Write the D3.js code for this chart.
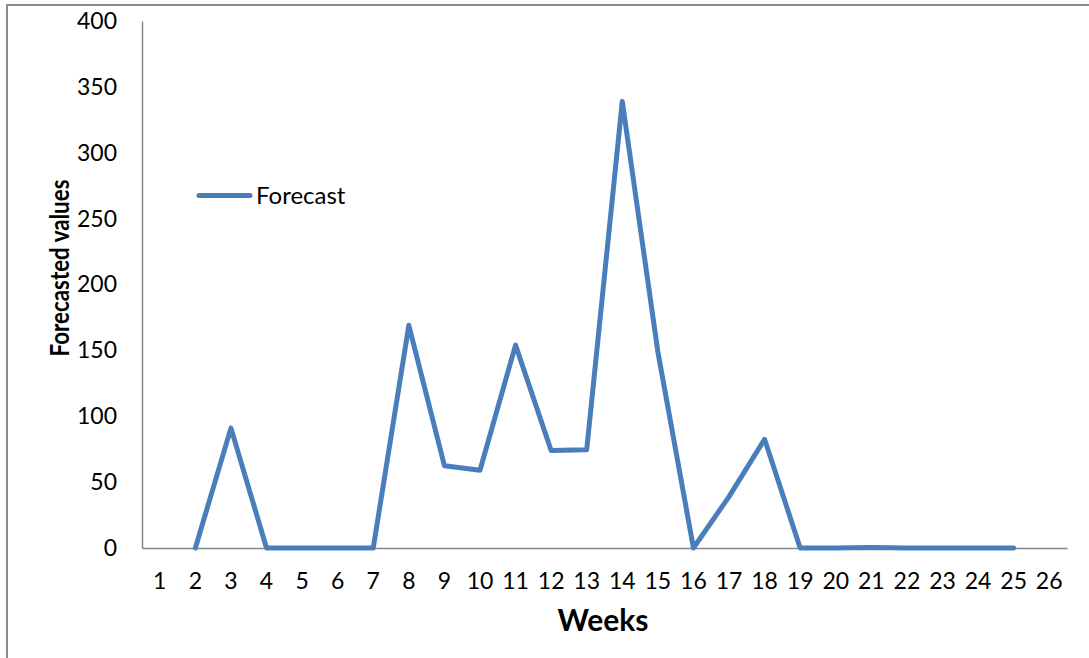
<!DOCTYPE html>
<html>
<head>
<meta charset="utf-8">
<script src="https://cdn.jsdelivr.net/npm/d3@7"></script>
<style>
  html, body { margin: 0; padding: 0; background: #fff; }
  svg { display: block; }
  text { font-family: Lato, "Open Sans", sans-serif; fill: #000; }
</style>
</head>
<body>
<svg id="chart" width="1089" height="658"></svg>
<script>
// Weekly forecast series
const weeks = ["1","2","3","4","5","6","7","8","9","10","11","12","13","14","15","16","17","18","19","20","21","22","23","24","25","26"];
const forecast = [null, 0, 91, 0, 0, 0, 0, 169, 62.5, 59, 154, 74, 74.5, 339, 149, 0, 39, 82.5, 0, 0, 0.4, 0, 0, 0, 0, null];
const yTicks = [0, 50, 100, 150, 200, 250, 300, 350, 400];
const seriesName = "Forecast";
const xTitle = "Weeks";
const yTitle = "Forecasted values";

const svg = d3.select("#chart");
const plot = { left: 142, right: 1067, top: 21, bottom: 548 };
const lineColor = "#4A7EBB";
const axisColor = "#868686";
const tickFont = "23px";

// outer frame
svg.append("path")
  .attr("d", "M7,660 L7,5 L1092,5")
  .attr("fill", "none")
  .attr("stroke", "#8c8c8c")
  .attr("stroke-width", 2);

const x = d3.scaleBand().domain(weeks).range([plot.left, plot.right]);
const y = d3.scaleLinear().domain([0, 400]).range([plot.bottom, plot.top]);

// y axis
const yAxis = svg.append("g")
  .attr("transform", `translate(${plot.left},0)`)
  .call(d3.axisLeft(y).tickValues(yTicks).tickSize(0).tickPadding(25));
yAxis.select(".domain").attr("stroke", axisColor).attr("stroke-width", 1.5);
yAxis.selectAll("text").style("font-size", tickFont).style("font-family", "Lato, 'Open Sans', sans-serif");

// x axis
const xAxis = svg.append("g")
  .attr("transform", `translate(0,${plot.bottom})`)
  .call(d3.axisBottom(x).tickSize(0).tickPadding(25));
xAxis.select(".domain").attr("stroke", axisColor).attr("stroke-width", 1.5);
xAxis.selectAll("text").style("font-size", tickFont).style("font-family", "Lato, 'Open Sans', sans-serif");

// forecast line
const line = d3.line()
  .defined(d => d.v !== null)
  .x(d => x(d.w) + x.bandwidth() / 2)
  .y(d => y(d.v));

svg.append("path")
  .datum(weeks.map((w, i) => ({ w, v: forecast[i] })))
  .attr("d", line)
  .attr("fill", "none")
  .attr("stroke", lineColor)
  .attr("stroke-width", 5)
  .attr("stroke-linejoin", "round")
  .attr("stroke-linecap", "round");

// legend
svg.append("line")
  .attr("x1", 199).attr("x2", 250)
  .attr("y1", 195.5).attr("y2", 195.5)
  .attr("stroke", lineColor)
  .attr("stroke-width", 5)
  .attr("stroke-linecap", "round");
svg.append("text")
  .attr("x", 256).attr("y", 203.5)
  .style("font-size", "24px")
  .text(seriesName);

// axis titles
svg.append("text")
  .attr("x", 603).attr("y", 631)
  .attr("text-anchor", "middle")
  .style("font-size", "30px")
  .style("font-weight", "bold")
  .text(xTitle);

svg.append("text")
  .attr("transform", "translate(69,268) rotate(-90)")
  .attr("text-anchor", "middle")
  .attr("textLength", 177)
  .attr("lengthAdjust", "spacingAndGlyphs")
  .style("font-size", "27px")
  .style("font-weight", "bold")
  .text(yTitle);
</script>
</body>
</html>
